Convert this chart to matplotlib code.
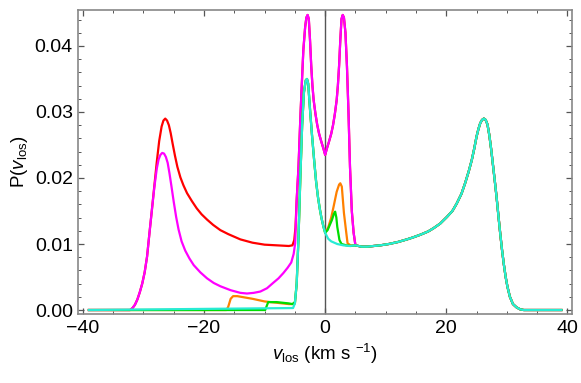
import numpy as np
import matplotlib
matplotlib.use("Agg")
import matplotlib.pyplot as plt
from matplotlib.ticker import MultipleLocator, FormatStrFormatter

# shared tail, x > 5 (every curve ends the same way)
right_v = [5.0, 6.0, 7.0, 8.0, 9.1, 10.5, 12.0, 13.5, 14.5, 15.7, 17.0, 17.9, 19.0, 20.1,
           21.0, 21.7, 22.5, 23.1, 23.7, 24.2, 24.6, 25.0, 25.3, 25.6, 25.9, 26.2, 26.5,
           26.8, 27.1, 27.4, 27.7, 28.0, 28.3, 28.6, 28.9, 29.2, 29.5, 29.8, 30.1, 30.5,
           31.0, 31.6, 32.2, 32.8, 39.0]
right_p = [0.0098, 0.0096, 0.0096, 0.0097, 0.0098, 0.0100, 0.0103, 0.0107, 0.0110, 0.0114,
           0.0119, 0.0124, 0.0131, 0.0141, 0.0150, 0.0161, 0.0176, 0.0192, 0.0210, 0.0227,
           0.0244, 0.0263, 0.0274, 0.0283, 0.0288, 0.0290, 0.0288, 0.0281, 0.0265, 0.0244,
           0.0220, 0.0196, 0.0171, 0.0143, 0.0116, 0.0091, 0.0069, 0.0050, 0.0035, 0.0020,
           0.0009, 0.0004, 0.0001, 0.0, 0.0]

# double peak around zero (red and magenta)
center_v = [-4.7, -4.4, -4.1, -3.85, -3.6, -3.3, -3.1, -2.9, -2.7, -2.5, -2.3, -2.1, -1.9,
            -1.6, -1.3, -1.0, -0.6, -0.3, 0.0, 0.3, 0.6, 1.0, 1.3, 1.6, 1.9, 2.1, 2.3, 2.5,
            2.7, 2.9, 3.1, 3.35, 3.6, 3.85, 4.1, 4.4, 4.7]
center_p = [0.0167, 0.0217, 0.0290, 0.0343, 0.0394, 0.0429, 0.0443, 0.0447, 0.0441, 0.0409,
            0.0370, 0.0340, 0.0318, 0.0297, 0.0280, 0.0267, 0.0254, 0.0245, 0.0235, 0.0245,
            0.0254, 0.0267, 0.0280, 0.0297, 0.0318, 0.0340, 0.0370, 0.0409, 0.0441, 0.0447,
            0.0443, 0.0420, 0.0369, 0.0300, 0.0217, 0.0150, 0.0117]

# single peak left of zero (orange, green, cyan)
peak_v = [-5.0, -4.7, -4.4, -4.1, -3.8, -3.5, -3.2, -3.0, -2.8, -2.5, -2.2, -1.8, -1.5,
          -1.2, -0.9, -0.6, -0.3, 0.0]
peak_p = [0.0010, 0.0040, 0.0110, 0.0200, 0.0280, 0.0330, 0.0348, 0.0350, 0.0343, 0.0304,
          0.0268, 0.0225, 0.0195, 0.0172, 0.0154, 0.0139, 0.0127, 0.0117]

red_v = [-39.0, -32.2, -31.8, -31.4, -31.0, -30.6, -30.2, -29.8, -29.4, -29.0, -28.6, -28.2,
         -27.8, -27.4, -27.0, -26.7, -26.4, -26.1, -25.8, -25.5, -25.2, -24.8, -24.4, -23.9,
         -23.4, -22.8, -22.0, -21.2, -20.4, -19.5, -18.5, -17.3, -16.0, -14.0, -12.0, -10.0,
         -8.0, -6.0, -5.4, -5.1, -4.9]
red_p = [0.0, 0.0, 0.0003, 0.0008, 0.0016, 0.0027, 0.0040, 0.0057, 0.0081, 0.0117, 0.0152,
         0.0188, 0.0224, 0.0256, 0.0278, 0.0287, 0.0290, 0.0287, 0.0280, 0.0268, 0.0253,
         0.0234, 0.0217, 0.0201, 0.0189, 0.0177, 0.0165, 0.0154, 0.0145, 0.0137, 0.0129,
         0.0121, 0.0115, 0.0107, 0.0102, 0.0099, 0.0098, 0.0097, 0.0098, 0.0106, 0.0125]

mag_v = [-39.0, -32.2, -31.8, -31.4, -31.0, -30.6, -30.2, -29.8, -29.4, -29.0, -28.6, -28.2,
         -27.8, -27.5, -27.2, -26.9, -26.6, -26.3, -26.0, -25.7, -25.4, -25.0, -24.6, -24.2,
         -23.7, -23.1, -22.4, -21.7, -20.6, -19.5, -18.4, -17.3, -15.6, -14.0, -12.9, -11.8,
         -10.7, -9.6, -8.6, -7.7, -6.9, -6.2, -5.6, -5.2, -4.95]
mag_p = [0.0, 0.0, 0.0003, 0.0008, 0.0016, 0.0027, 0.0040, 0.0057, 0.0081, 0.0117, 0.0152,
         0.0186, 0.0214, 0.0228, 0.0235, 0.0238, 0.0237, 0.0232, 0.0223, 0.0207, 0.0189,
         0.0164, 0.0141, 0.0122, 0.0104, 0.0090, 0.0078, 0.0068, 0.0057, 0.0048, 0.0041,
         0.0036, 0.0030, 0.0026, 0.0025, 0.0026, 0.0028, 0.0033, 0.0041, 0.0048, 0.0056,
         0.0064, 0.0072, 0.0085, 0.0101]

orange_v = [-39.0, -16.3, -16.0, -15.6, -15.2, -14.5, -12.0, -10.0, -8.0, -6.0, -5.3]
orange_p = [0.0, 0.0, 0.0005, 0.0017, 0.0021, 0.0021, 0.0017, 0.0013, 0.0011, 0.0009, 0.0009]
orange_mid_v = [0.5, 1.0, 1.4, 1.9, 2.3, 2.5, 2.75, 3.1, 3.5, 3.7, 4.2]
orange_mid_p = [0.0125, 0.0140, 0.0157, 0.0179, 0.0190, 0.0192, 0.0187, 0.0147, 0.0116, 0.0101, 0.0098]

green_v = [-39.0, -9.9, -9.4, -8.0, -7.0, -6.0, -5.4, -5.15]
green_p = [0.0, 0.0, 0.0012, 0.0012, 0.0011, 0.0010, 0.0009, 0.0011]
green_mid_v = [0.4, 1.1, 1.45, 1.65, 1.85, 2.0, 2.36, 2.7, 3.5, 4.2]
green_mid_p = [0.0121, 0.0136, 0.0146, 0.0149, 0.0140, 0.0126, 0.0106, 0.0100, 0.0098, 0.0097]

cyan_v = [-39.0, -5.3]
cyan_p = [0.0, 0.0003]
cyan_mid_v = [0.5, 1.0, 2.0, 3.0, 4.0]
cyan_mid_p = [0.0108, 0.0104, 0.0100, 0.0098, 0.0097]

colors = {'red': '#ff0000', 'magenta': '#ff00ff', 'orange': '#ff8000',
          'green': '#00dd00', 'cyan': '#28ecd4'}

plt.rcParams['font.family'] = ['Liberation Sans', 'DejaVu Sans']
plt.rcParams['mathtext.fontset'] = 'custom'
plt.rcParams['mathtext.rm'] = 'Liberation Sans'
plt.rcParams['mathtext.it'] = 'Liberation Sans:italic'
plt.rcParams['font.size'] = 13.5

fig = plt.figure(figsize=(5.81, 3.83), dpi=100)
ax = fig.add_axes([0.1348, 0.1802, 0.8497, 0.7937])

curves = [
    (red_v + center_v + right_v, red_p + center_p + right_p, 'red'),
    (mag_v + center_v + right_v, mag_p + center_p + right_p, 'magenta'),
    (orange_v + peak_v + orange_mid_v + right_v, orange_p + peak_p + orange_mid_p + right_p, 'orange'),
    (green_v + peak_v + green_mid_v + right_v, green_p + peak_p + green_mid_p + right_p, 'green'),
    (cyan_v + peak_v + cyan_mid_v + right_v, cyan_p + peak_p + cyan_mid_p + right_p, 'cyan'),
]
for v, p, c in curves:
    ax.plot(v, p, color=colors[c], lw=1.6, solid_joinstyle='round')

ax.axvline(0, color='#555555', lw=1.0, zorder=0.5)

ax.set_xlim(-40.75, 40.75)
ax.set_ylim(-0.0006, 0.04545)
ax.xaxis.set_major_locator(MultipleLocator(20))
ax.xaxis.set_minor_locator(MultipleLocator(5))
ax.yaxis.set_major_locator(MultipleLocator(0.01))
ax.yaxis.set_minor_locator(MultipleLocator(0.002))
ax.yaxis.set_major_formatter(FormatStrFormatter('%.2f'))
ax.tick_params(which='both', direction='in', top=True, right=True, color='#555555')
ax.tick_params(which='major', length=4.5, width=0.9, pad=4, labelsize=14)
ax.tick_params(which='minor', length=2.5, width=0.7)
for s in ax.spines.values():
    s.set_color('#888888')
    s.set_linewidth(1.2)

ax.set_xlabel(r'$v_{\rm los}$ (km s $^{-1}$)', labelpad=4)
ax.set_ylabel(r'P($v_{\rm los}$)', labelpad=3)

fig.savefig('out.png', dpi=100)
